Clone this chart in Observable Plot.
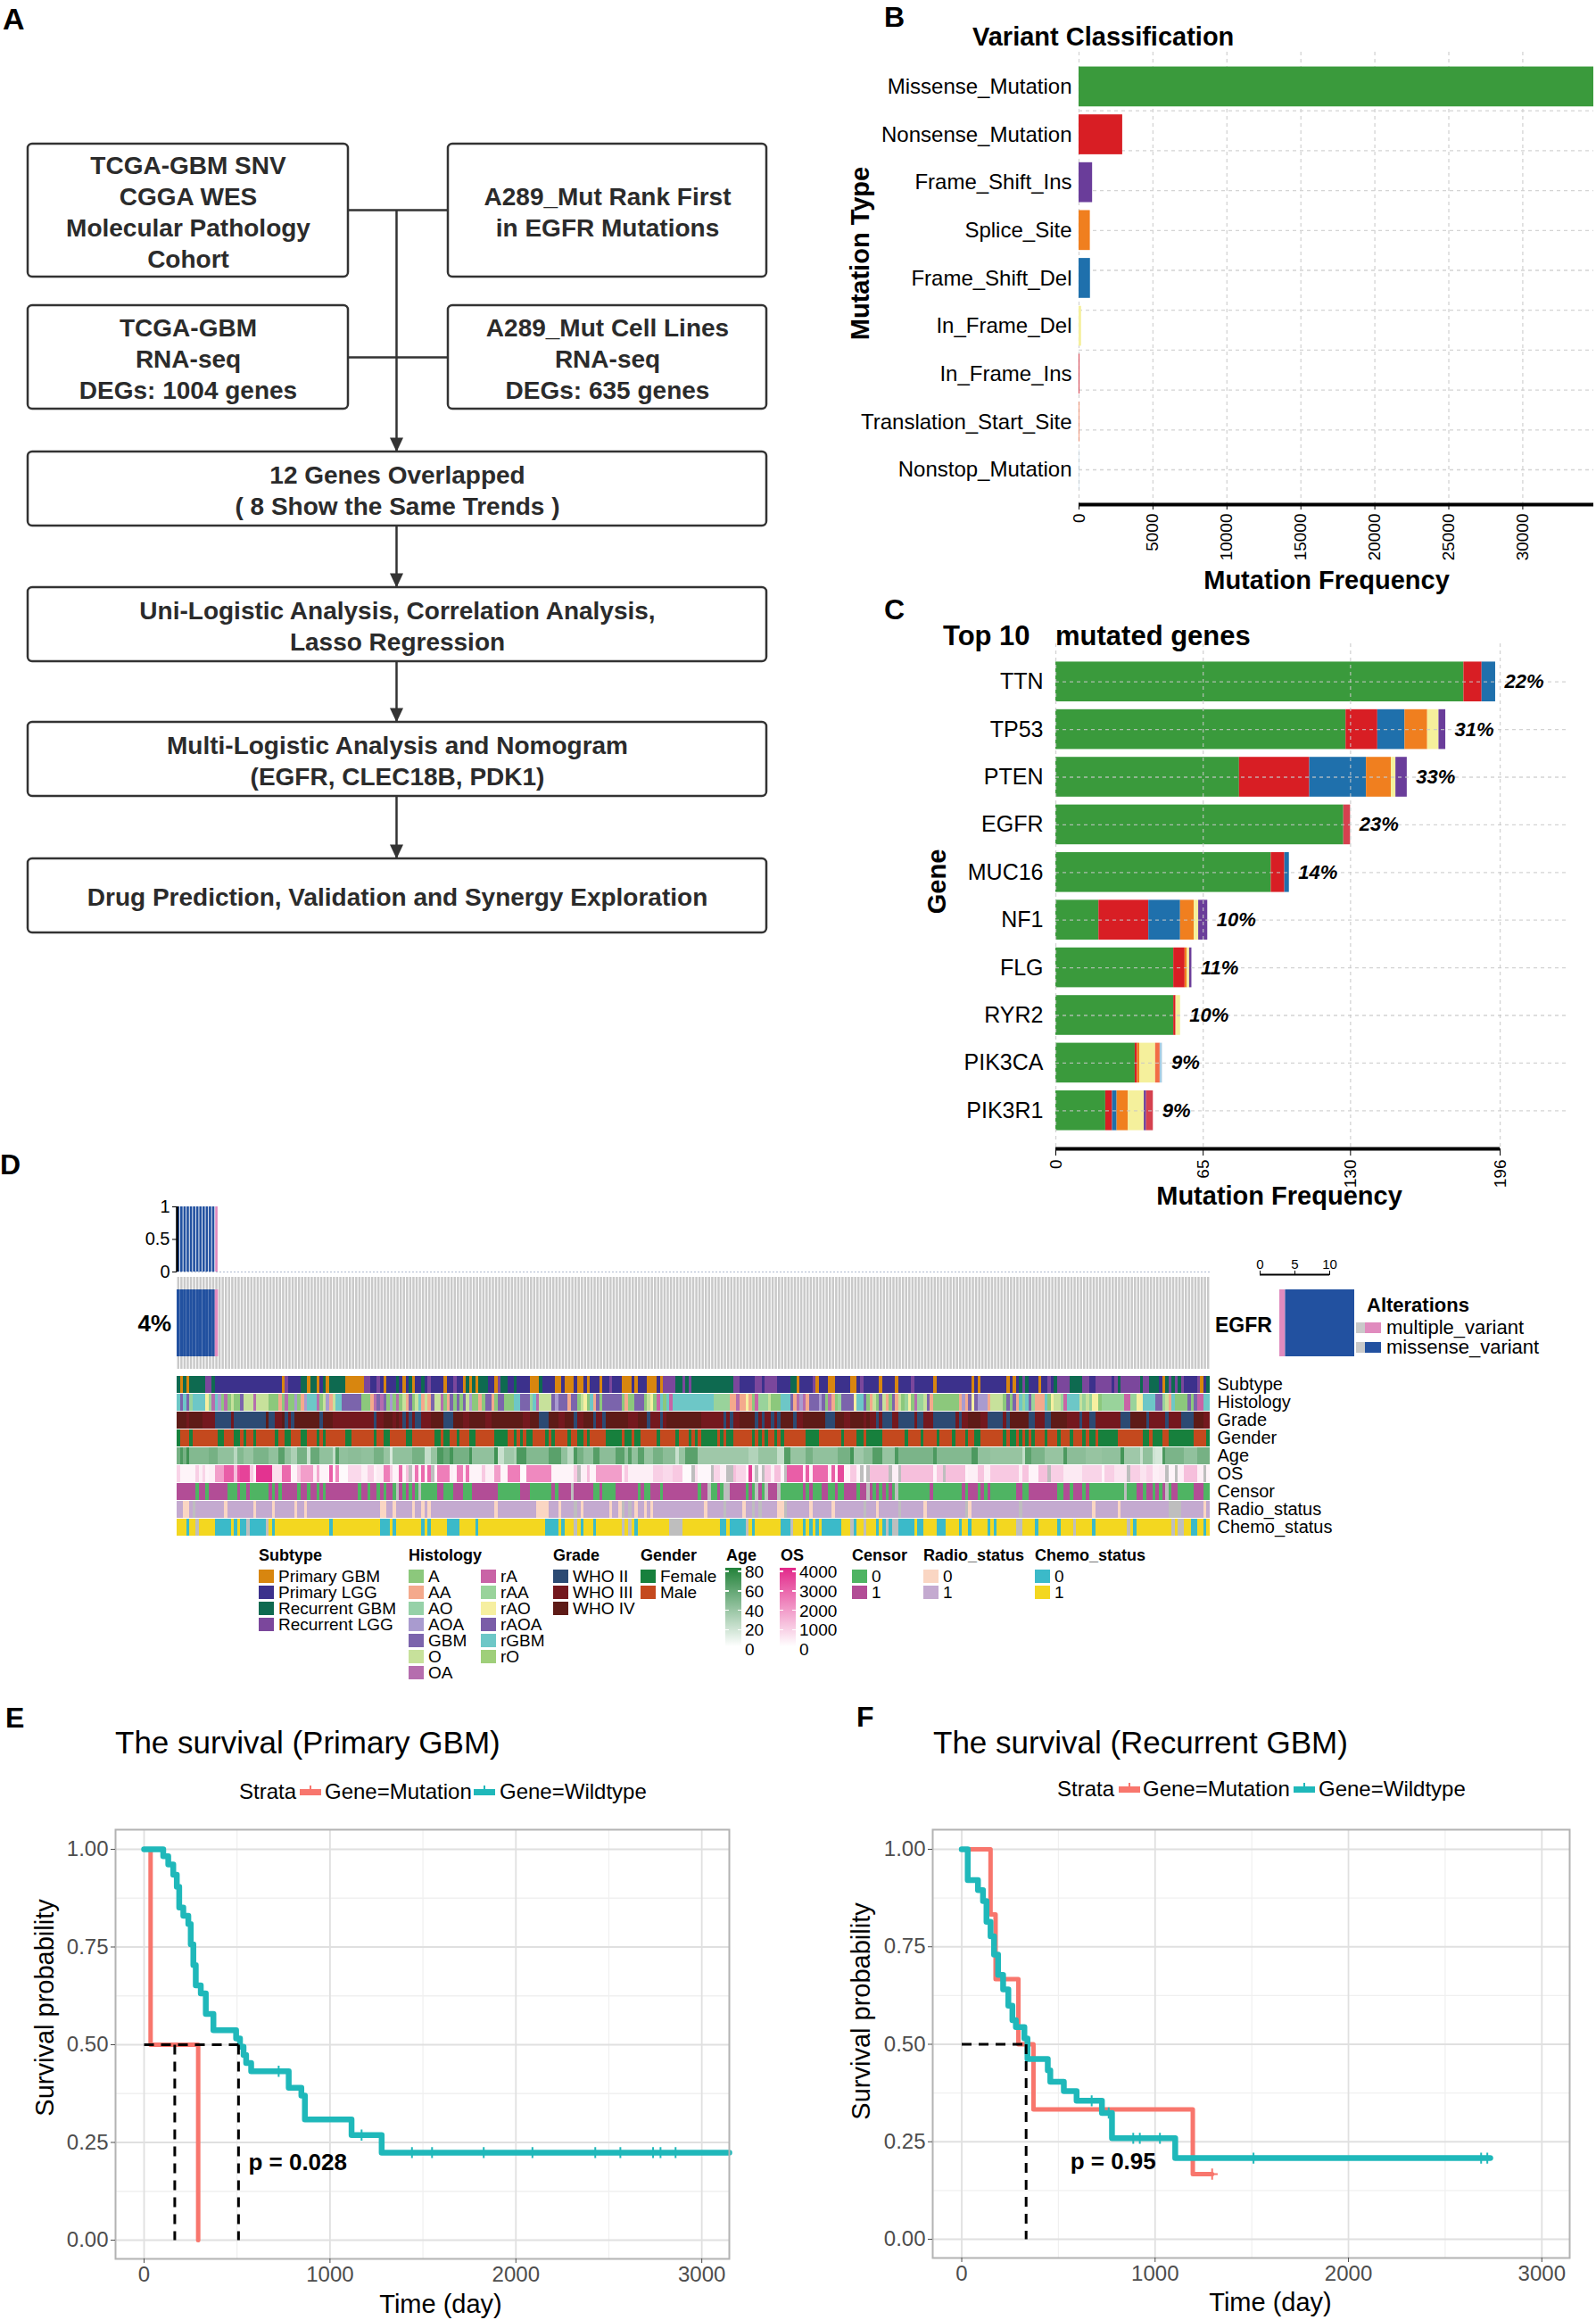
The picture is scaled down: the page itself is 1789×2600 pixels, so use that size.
<!DOCTYPE html>
<html><head><meta charset="utf-8">
<script src="https://cdn.jsdelivr.net/npm/d3@7"></script>
<script src="https://cdn.jsdelivr.net/npm/@observablehq/plot@0.6"></script>
<style>
body{margin:0;background:#fff;}
#fig{position:relative;width:1789px;height:2600px;overflow:hidden;background:#fff;font-family:"Liberation Sans",Arial,Helvetica,sans-serif;}
</style></head><body><div id="fig"></div>
<script>
// ===================== DATA =====================
// Panel A – flowchart text
const flowSteps = [
  ["TCGA-GBM SNV","CGGA WES","Molecular Pathology","Cohort"],
  ["A289_Mut Rank First","in EGFR Mutations"],
  ["TCGA-GBM","RNA-seq","DEGs: 1004 genes"],
  ["A289_Mut Cell Lines","RNA-seq","DEGs: 635 genes"],
  ["12 Genes Overlapped","( 8 Show the Same Trends )"],
  ["Uni-Logistic Analysis, Correlation Analysis,","Lasso Regression"],
  ["Multi-Logistic Analysis and Nomogram","(EGFR, CLEC18B, PDK1)"],
  ["Drug Prediction, Validation and Synergy Exploration"]
];

// Panel B – variant classification
const vcTypes = ["Missense_Mutation","Nonsense_Mutation","Frame_Shift_Ins","Splice_Site","Frame_Shift_Del","In_Frame_Del","In_Frame_Ins","Translation_Start_Site","Nonstop_Mutation"];
const vcCounts = [34800, 2950, 915, 760, 770, 170, 60, 40, 20];
const vcTicks = [0,5000,10000,15000,20000,25000,30000];

// Panel C – top 10 mutated genes
const topGenes = ["TTN","TP53","PTEN","EGFR","MUC16","NF1","FLG","RYR2","PIK3CA","PIK3R1"];
const genePct  = ["22%","31%","33%","23%","14%","10%","11%","10%","9%","9%"];
const stackOrder = ["Missense_Mutation","Nonsense_Mutation","Frame_Shift_Del","Splice_Site","In_Frame_Del","Frame_Shift_Ins","In_Frame_Ins","Translation_Start_Site","Nonstop_Mutation"];
const geneMissense = [180,128,81,127,95,19,52,52,35,22];
const geneNonsense = [8,14,31,0,6,22,5,1,1,3];
const geneFSDel    = [6,12,25,0,2,14,0,0,0,2];
const geneSplice   = [0,10,11,0,0,6,1,0,1,5];
const geneIFDel    = [0,5,2,0,0,2,1,2,7,7];
const geneFSIns    = [0,3,5,0,0,4,1,0,0,1];
const geneIFIns    = [0,0,0,3,0,0,0,0,0,3];
const geneTSS      = [0,0,0,0,0,0,0,0,2,0];
const geneNonstop  = [0,0,0,0,0,0,0,0,1,0];
const cTicks = [0,65,130,196];

// Panel D – oncoplot
const N = 325;
const egfrAlterations = ["missense_variant","missense_variant","missense_variant","missense_variant","missense_variant","missense_variant","missense_variant","missense_variant","missense_variant","missense_variant","missense_variant","missense_variant","multiple_variant"];
const egfrPct = "4%";
const egfrCounts = [["multiple_variant",1],["missense_variant",12]];
const trackNames = ["Subtype","Histology","Grade","Gender","Age","OS","Censor","Radio_status","Chemo_status"];
// run-length strings (value:count), three segments per track (106 + 110 + 109 samples)
const subtypeRuns = [
 "R:1 P:1 R:1 P:1 R:5 Q:2 R:1 L:21 P:1 Q:1 L:4 R:2 P:1 R:2 P:1 L:1 R:1 P:1 R:5 P:6 Q:2 L:2 Q:1 L:1 P:1 L:3 R:1 L:1 P:1 L:1 R:1 P:1 L:2 R:1 L:1 Q:1 L:4 P:1 L:2 Q:1 L:2 P:1 R:1 P:1 R:1 P:1 R:2 R:1 L:2 P:1 Q:1 R:2 L:2",
 "R:1 L:4 P:3 R:1 L:4 P:2 L:1 P:3 L:1 P:2 L:1 P:1 L:3 P:1 L:2 Q:1 L:3 P:3 L:1 P:1 L:3 P:3 L:1 P:1 Q:4 R:2 Q:1 R:1 Q:1 R:3 R:10 Q:2 L:5 Q:2 L:1 Q:4 L:4 R:2 P:1 L:4 Q:1 P:1 L:3 P:2 L:5 P:2 L:1 Q:1",
 "L:5 P:1 L:4 P:1 L:4 Q:1 L:6 P:1 L:11 P:1 L:1 P:1 L:8 P:1 L:1 P:1 L:1 R:1 Q:1 R:1 L:3 P:1 L:2 Q:1 L:1 R:1 Q:4 R:4 Q:2 L:2 Q:5 L:1 Q:1 R:1 Q:6 R:1 Q:2 R:3 L:1 P:1 R:1 Q:1 R:1 Q:1 R:1 Q:1 L:4 Q:1 P:1 L:1 R:1"];
const histologyRuns = [
 "5:1 G:1 5:1 G:1 2:1 5:4 3:1 2:1 Y:1 5:1 x:1 A:1 Y:1 A:1 O:1 A:2 G:1 O:3 Y:1 O:4 A:3 a:1 A:1 Y:1 A:2 x:1 A:1 a:1 x:1 5:3 Y:1 A:1 O:1 x:1 a:1 O:1 5:2 G:6 A:3 a:1 Y:1 G:1 Y:1 G:1 A:1 x:1 A:1 Y:1 A:1 O:1 a:1 G:1 A:1 O:1 5:1 a:1 O:1 a:1 G:1 O:2 Y:1 A:1 a:1 G:1 A:1 G:1 A:1 G:1 O:1 x:1 A:2 a:1 A:1 G:2 a:1 A:1 G:2 A:3",
 "5:2 G:3 2:1 5:1 Y:1 O:1 O:3 G:1 x:1 G:3 a:1 G:2 A:1 O:1 3:1 A:1 5:1 a:1 G:1 A:1 G:2 G:4 A:1 a:1 A:2 G:3 A:1 O:1 3:1 A:1 1:1 5:1 A:1 5:1 1:1 5:13 2:5 a:2 Y:1 a:2 3:1 a:1 A:1 1:1 2:3 O:1 A:3 5:3 G:1 a:1 Y:1 x:1 Y:1 a:1 G:3 x:1 G:1 A:1 Y:1 a:1 A:1 2:1 G:4 3:1 5:2",
 "G:1 A:1 a:1 O:1 A:1 G:1 O:1 a:1 A:1 G:1 a:1 O:1 A:1 2:1 3:1 A:1 Y:1 2:2 O:1 G:1 a:1 A:8 a:1 x:1 a:1 G:1 3:1 G:1 x:3 a:1 O:4 A:1 G:1 A:1 G:1 a:1 5:1 2:1 5:1 G:1 2:1 a:3 5:1 A:1 3:1 O:2 2:1 1:1 5:4 O:1 2:1 O:1 2:1 3:2 A:1 2:7 1:2 2:2 3:2 5:4 G:2 2:1 O:1 a:1 5:1 A:4 G:1 A:1 G:1 1:2 5:2"];
const gradeRuns = [
 "4:3 3:1 4:4 3:4 2:5 3:1 2:10 4:1 2:2 3:2 4:1 2:1 3:1 2:1 4:8 2:1 4:3 3:13 2:1 3:2 4:3 3:1 4:1 3:1 2:1 3:1 2:1 3:1 2:2 3:3 4:4 2:3 4:3 3:2 4:5 3:2 4:7",
 "4:3 3:2 4:3 2:3 4:3 3:2 4:3 2:1 3:2 4:3 2:1 3:2 2:1 4:3 4:4 3:3 4:3 2:1 3:3 2:1 3:1 4:4 4:7 3:7 2:1 3:1 2:1 3:2 4:5 2:1 3:1 2:1 3:2 2:1 3:1 2:1 4:4 2:1 3:2 4:7 2:3 4:3 3:2 4:4",
 "3:1 4:1 3:2 2:1 3:1 2:3 3:2 2:5 3:1 2:2 3:3 2:7 3:1 2:1 3:2 4:4 3:2 2:5 3:1 2:1 4:6 2:2 3:3 2:2 4:5 3:4 2:1 3:2 2:2 3:1 3:5 3:2 2:3 4:5 2:1 3:5 2:1 3:4 2:4 4:3 3:2"];
const genderRuns = [
 "F:1 M:3 F:1 M:8 F:2 M:3 F:2 M:1 F:1 M:2 F:1 M:6 F:1 M:2 F:2 M:3 F:2 M:3 F:1 M:1 F:1 M:6 F:2 M:7 F:1 M:2 F:2 M:5 F:2 M:7 F:2 M:1 F:2 M:2 F:1 M:3 F:2 M:6 F:4 M:2",
 "F:1 M:1 F:1 M:1 F:2 M:4 F:1 M:1 F:1 M:4 F:1 M:2 F:2 M:1 F:1 M:5 F:5 M:1 F:2 M:1 F:2 M:5 F:1 M:5 F:1 M:3 F:1 M:1 F:1 M:1 F:5 M:1 F:1 M:1 F:2 M:6 F:1 M:1 F:1 M:1 F:1 M:2 F:1 M:1 F:1 M:7 F:4 M:7 F:1 M:4 F:2",
 "M:1 F:5 M:7 F:1 M:4 F:1 M:4 F:1 M:4 F:1 M:3 F:1 M:2 F:2 M:7 F:1 M:1 F:2 M:1 F:1 M:1 F:1 M:1 F:1 M:3 F:1 M:3 F:1 M:3 F:1 M:3 F:1 M:1 F:2 M:1 F:6 M:8 F:2 M:1 F:3 M:2 F:8 M:4 F:1"];
const ageRuns = [
 "50:1 65:1 50:1 70:1 45:6 50:3 40:5 25:1 45:2 38:3 48:5 40:3 60:2 40:2 30:2 50:3 20:1 55:3 40:4 22:1 62:1 40:3 42:4 40:4 50:3 38:2 15:1 40:1 40:5 50:4 22:2 38:2 65:2 55:2 68:1 50:5 68:1 40:7 70:1 20:2 35:3",
 "30:1 65:3 45:7 60:4 40:2 25:2 65:1 50:2 40:3 62:2 42:5 60:3 40:1 62:1 40:2 60:2 38:3 50:3 42:4 20:1 38:2 60:4 35:8 35:8 28:3 38:6 22:2 62:2 38:5 50:2 40:8 50:4 68:1 35:3",
 "42:3 62:3 38:4 65:1 48:11 65:1 45:11 65:2 40:4 38:10 22:1 60:2 48:4 38:6 65:1 42:6 38:5 40:6 68:1 35:5 20:1 40:3 18:1 15:2 65:1 48:6 40:4 50:4"];
const osRuns = [
 "800:1 200:5 900:1 300:1 800:1 200:1 300:2 1800:3 3000:3 1200:1 3200:1 3500:3 1000:1 300:1 3800:5 600:3 2800:3 200:2 1000:1 1800:4 300:1 1600:1 200:3 3000:1 200:1 2200:1 100:3 700:4 300:2 900:2 200:1 400:2 2400:2 900:1 200:2 2800:1 200:1 1200:1 N:1 300:1 2600:1 200:1 2800:1 300:1 2800:1 N:1 200:1 2400:4 300:1 200:1 2400:2 300:1 2600:1 200:4 1000:1 300:3 1800:2 200:2 2400:2",
 "2400:2 100:2 2200:8 200:7 1000:1 N:1 300:2 1200:1 200:2 1800:8 300:1 1000:1 300:8 900:3 700:3 1000:3 100:3 N:1 600:1 150:4 N:1 800:2 300:2 N:2 1200:1 800:3 200:1 3600:1 300:1 N:1 200:1 N:1 1000:2 300:1 1200:2 200:1 N:1 3000:5 300:1 3000:1 200:1 2800:5 300:1 3000:1 200:1 3400:2 200:2 1000:2 200:1 N:1",
 "100:1 N:1 1200:6 N:1 300:2 N:1 1200:10 200:1 1000:2 N:1 1200:6 200:1 300:3 1100:2 300:2 1000:9 300:1 1100:2 200:3 1200:3 N:1 900:4 400:6 800:6 200:1 900:3 500:4 N:1 900:3 500:2 800:2 300:2 400:2 N:1 200:2 N:1 300:2 1200:4 300:2 N:1 200:1"];
const censorRuns = [
 "1:6 0:1 1:2 0:1 1:6 0:3 1:1 0:2 1:1 0:6 1:1 0:1 1:1 0:1 1:5 0:1 1:2 0:1 1:2 0:1 1:1 0:1 1:10 0:1 1:2 0:1 1:2 0:1 1:1 0:1 1:2 0:1 N:1 1:1 0:1 1:1 0:1 1:1 0:1 N:1 0:5 1:2 0:3 1:3 0:3 1:8 0:5",
 "0:2 1:3 0:7 1:1 0:1 1:4 N:1 1:6 0:2 1:1 0:4 1:7 0:1 1:1 0:2 1:3 0:1 1:11 0:1 1:2 N:1 0:2 1:1 0:1 N:2 1:5 0:1 1:1 0:1 N:1 1:1 0:1 N:1 1:3 N:1 0:7 1:1 0:1 1:1 0:3 1:2 0:2 1:1 0:2 1:4 0:1 1:1",
 "1:1 N:1 1:1 0:1 1:1 0:1 1:1 0:1 1:1 0:1 N:1 0:10 1:1 0:9 1:1 0:1 1:3 0:1 1:1 0:1 1:1 0:8 1:2 0:2 1:9 0:2 1:2 0:1 1:3 0:1 1:1 0:11 N:1 0:3 1:2 0:1 1:2 0:1 1:1 0:1 1:1 N:1 0:1 1:2 0:5 1:3 0:2"];
const radioRuns = [
 "1:2 0:2 1:1 N:1 1:9 0:1 1:8 0:1 1:5 0:1 1:6 0:1 1:2 0:1 1:23 0:2 1:2 0:1 1:5 0:1 1:2 0:1 1:1 0:1 1:20 0:1 1:5",
 "1:7 0:4 1:3 0:1 1:4 N:1 1:1 0:1 1:8 0:1 1:2 0:1 N:1 1:1 N:1 1:1 0:1 1:2 0:1 1:1 0:1 1:16 0:1 1:5 N:1 1:5 0:1 1:2 N:1 1:1 N:1 1:5 0:2 N:1 1:7 0:1 1:6 0:1 1:9",
 "N:1 1:3 0:1 1:6 N:1 1:7 0:1 1:12 N:1 0:1 1:15 N:1 1:22 0:1 1:7 0:1 1:15 N:4 1:7 0:1 1:1"];
const chemoRuns = [
 "1:3 0:1 1:2 N:1 1:5 0:5 1:1 0:1 1:1 0:2 N:1 0:5 N:1 1:1 0:1 1:17 0:1 1:15 0:3 1:1 0:1 1:8 0:1 1:1 0:1 1:5 0:4 1:5 0:1 1:11",
 "1:10 0:4 1:1 0:1 1:3 N:1 1:1 0:1 1:3 0:1 1:8 N:1 1:1 N:1 1:1 0:1 1:10 N:4 1:12 0:2 1:1 0:5 N:1 1:1 0:1 1:8 0:3 N:1 1:3 0:1 1:1 0:1 1:1 0:1 1:1 0:6 1:3 N:1 0:1 1:2",
 "N:1 1:3 0:1 1:1 0:1 N:1 0:1 N:2 0:5 1:1 0:2 1:4 0:3 1:4 0:1 1:2 0:1 1:5 0:1 1:1 0:1 1:6 N:2 1:4 0:1 1:6 0:1 1:4 N:1 1:5 0:1 1:10 N:1 1:1 0:1 1:11 N:1 1:1 N:2 1:2 0:2 1:2 0:1 1:1"];
const subtypeCodes = {P:"Primary GBM", L:"Primary LGG", R:"Recurrent GBM", Q:"Recurrent LGG"};
const histologyCodes = {A:"A", a:"AA", o:"AO", x:"AOA", G:"GBM", O:"O", Y:"OA", "1":"rA", "2":"rAA", "3":"rAO", "4":"rAOA", "5":"rGBM", "6":"rO"};
const gradeCodes = {"2":"WHO II","3":"WHO III","4":"WHO IV"};
const genderCodes = {F:"Female", M:"Male"};
const ageLegendTicks = [80,60,40,20,0];
const osLegendTicks = [4000,3000,2000,1000,0];

// Panels E/F – Kaplan–Meier curves [day, survival]
const kmPrimaryMut = [[0,1],[35,0.5],[291,0]];
const kmPrimaryWt = [[0,1],[103,0.982],[130,0.961],[157,0.935],[176,0.904],[189,0.851],[211,0.830],[238,0.809],[251,0.757],[265,0.704],[278,0.652],[305,0.631],[332,0.579],[373,0.537],[495,0.516],[516,0.495],[535,0.474],[549,0.453],[576,0.432],[778,0.390],[846,0.370],[865,0.309],[1116,0.269],[1278,0.224],[3148,0.224]];
const kmPrimaryWtCens = [[724,0.432],[1170,0.269],[1441,0.224],[1549,0.224],[1827,0.224],[2089,0.224],[2427,0.224],[2562,0.224],[2738,0.224],[2778,0.224],[2859,0.224]];
const kmPrimaryMedians = [[0,0.5,508,0.5],[165,0.5,165,0],[508,0.5,508,0]];
const kmPrimaryP = "p = 0.028";
const kmRecMut = [[0,1],[149,0.833],[175,0.667],[293,0.5],[371,0.333],[1195,0.167],[1295,0.167]];
const kmRecMutCens = [[1295,0.167]];
const kmRecWt = [[0,1],[31,0.921],[84,0.895],[110,0.867],[128,0.814],[149,0.777],[167,0.730],[188,0.678],[214,0.641],[241,0.599],[262,0.562],[280,0.544],[324,0.515],[340,0.462],[445,0.433],[458,0.404],[528,0.380],[594,0.355],[725,0.324],[777,0.259],[1104,0.208],[2733,0.208]];
const kmRecWtCens = [[672,0.355],[760,0.324],[887,0.259],[921,0.259],[1025,0.259],[1509,0.208],[2686,0.208],[2718,0.208]];
const kmRecMedians = [[0,0.5,333,0.5],[333,0.5,333,0]];
const kmRecP = "p = 0.95";
const kmTicksX = [0,1000,2000,3000], kmMinorX = [500,1500,2500];
const kmTicksY = [0,0.25,0.5,0.75,1], kmMinorY = [0.125,0.375,0.625,0.875];

// ===================== STYLES =====================
const FONT = '"Liberation Sans", Arial, Helvetica, sans-serif';
const vcColors = {Missense_Mutation:"#3A9A3C", Nonsense_Mutation:"#D81E24", Frame_Shift_Del:"#1F70AC", Splice_Site:"#F07F1F", Frame_Shift_Ins:"#6A3D9A", In_Frame_Del:"#F5F09C", In_Frame_Ins:"#D5414F", Translation_Start_Site:"#F26D45", Nonstop_Mutation:"#A8CCE2"};
const altColors = {missense_variant:"#2251A0", multiple_variant:"#E08BBE"};
const subtypePalette = {"Primary GBM":"#D8860F","Primary LGG":"#3C318C","Recurrent GBM":"#0E6A50","Recurrent LGG":"#7B479C"};
const histologyPalette = {A:"#8CC87C",AA:"#F4A98C",AO:"#96D1A8",AOA:"#A99BCF",GBM:"#7B64AC",O:"#C7E19B",OA:"#B56DAE",rA:"#C963A6",rAA:"#99D39B",rAO:"#F6EFA0",rAOA:"#7A5DA8",rGBM:"#6DC7C7",rO:"#9FCF7A"};
const gradePalette = {"WHO II":"#2C4A73","WHO III":"#74181E","WHO IV":"#5E1B17"};
const genderPalette = {Female:"#17803D", Male:"#C4491E"};
const censorPalette = {"0":"#4FB463","1":"#B24D96"};
const radioPalette = {"0":"#FAD6C3","1":"#C4AAD0"};
const chemoPalette = {"0":"#3BBAC9","1":"#F3D720"};
const NA_COLOR = "#BEBEBE";
const ageColor = v => d3.interpolateRgb("#FFFFFF","#23823A")(Math.max(0,Math.min(1,v/80)));
const osColor = v => d3.interpolateRgb("#FFFFFF","#E2288A")(Math.max(0,Math.min(1,v/4000)));
const MUT_COLOR = "#F8766D", WT_COLOR = "#1FB8BA";
const baseStyle = {fontFamily: FONT, background: "transparent", overflow: "visible", color: "#000"};

// ===================== HELPERS =====================
const fig = document.getElementById("fig");
const W = 1789;
function put(el, left, top) {
  el.style.position = "absolute"; el.style.left = left + "px"; el.style.top = top + "px";
  fig.appendChild(el); return el;
}
function label(text, x, y, o = {}) {
  const d = document.createElement("div");
  d.textContent = text;
  const a = o.anchor || "start";
  const tx = a === "start" ? "0" : a === "middle" ? "-50%" : "-100%";
  const tf = o.rotate ? `translate(-50%,-50%) rotate(${o.rotate}deg)` : `translate(${tx},-50%)`;
  Object.assign(d.style, {position:"absolute", left:x+"px", top:y+"px", transform:tf, whiteSpace:"nowrap",
    lineHeight:"1", fontSize:(o.size||20)+"px", fontWeight:o.weight||"normal", fontStyle:o.style||"normal",
    color:o.color||"#000", fontFamily:FONT});
  fig.appendChild(d); return d;
}
function box(x, y, w, h, bg) {
  const d = document.createElement("div");
  Object.assign(d.style, {position:"absolute", left:x+"px", top:y+"px", width:w+"px", height:h+"px", background:bg});
  fig.appendChild(d); return d;
}
function decodeRuns(segs) {
  const out = [];
  for (const seg of segs) for (const tok of seg.trim().split(/\s+/)) {
    const k = tok.lastIndexOf(":");
    const v = tok.slice(0, k), n = +tok.slice(k + 1);
    for (let j = 0; j < n; j++) out.push(v);
  }
  return out;
}

// ===================== PANEL A =====================
const flowBoxes = [[31,390,161,310],[502,859,161,310],[31,390,342,458],[502,859,342,458],[31,859,506,589],[31,859,658,741],[31,859,809,892],[31,859,962,1045]];
const flowLinks = [[390,235,502,235],[390,400,502,400],[444,235,444,506],[444,589,444,658],[444,741,444,809],[444,892,444,962]];
const flowArrowTips = [[444,506],[444,658],[444,809],[444,962]];
const arrowHead = {draw(ctx){ ctx.moveTo(0,0); ctx.lineTo(-7.5,-16); ctx.lineTo(7.5,-16); ctx.closePath(); }};
const boxesA = flowSteps.map((lines,i)=>({lines, b: flowBoxes[i]}));
put(Plot.plot({
  width: 900, height: 1060, margin: 0, style: baseStyle,
  x: {domain:[0,900], axis:null}, y: {domain:[1060,0], axis:null},
  marks: [
    Plot.link(flowLinks, {x1:d=>d[0], y1:d=>d[1], x2:d=>d[2], y2:d=>d[3], stroke:"#333", strokeWidth:2.5}),
    Plot.rect(boxesA, {x1:d=>d.b[0], x2:d=>d.b[1], y1:d=>d.b[2], y2:d=>d.b[3], fill:"#fff", stroke:"#333", strokeWidth:2.5, rx:5}),
    Plot.text(boxesA, {x:d=>(d.b[0]+d.b[1])/2, y:d=>(d.b[2]+d.b[3])/2, text:d=>d.lines.join("\n"), fontSize:28, fontWeight:"bold", lineHeight:1.25, fill:"#2b2b2b"}),
    Plot.dot(flowArrowTips, {x:d=>d[0], y:d=>d[1], symbol:arrowHead, r:8, fill:"#333", stroke:"none"})
  ]
}), 0, 0);
label("A", 3, 21, {size:34, weight:"bold"});

// ===================== PANEL B =====================
const barsB = vcTypes.map((t,j)=>({type:t, count:vcCounts[j], pos: vcTypes.length-1-j}));
const bYDomain = [-0.172, 11.17];
const bGridY = d3.range(11).map(j=>0.7+j);
put(Plot.plot({
  width: 849, height: 680, marginLeft: 269, marginRight: 3, marginTop: 58, marginBottom: 115,
  style: baseStyle, color: {type:"identity"},
  x: {domain:[0, 34800]}, y: {domain: bYDomain, axis:null},
  marks: [
    Plot.ruleX(vcTicks, {stroke:"#D4D4D4", strokeWidth:1.3, strokeDasharray:"4,4"}),
    Plot.ruleY(bGridY, {x1:0, x2:34800, stroke:"#D4D4D4", strokeWidth:1.3, strokeDasharray:"4,4"}),
    Plot.rect(barsB, {x1:0, x2:"count", y1:d=>0.2+1.2*d.pos, y2:d=>1.2+1.2*d.pos, fill:d=>vcColors[d.type]}),
    Plot.ruleY([bYDomain[0]], {x1:0, x2:34800, stroke:"#000", strokeWidth:4}),
    Plot.text(barsB, {x:0, y:d=>0.7+1.2*d.pos, text:"type", textAnchor:"end", dx:-8, fontSize:24}),
    Plot.axisX({ticks:vcTicks, tickFormat:"d", tickRotate:-90, fontSize:19, tickSize:6, tickPadding:4, label:null})
  ]
}), 940, 0);
label("B", 991, 19, {size:32, weight:"bold"});
label("Variant Classification", 1090, 41, {size:29, weight:"bold"});
label("Mutation Type", 964, 284, {size:29, weight:"bold", rotate:-90});
label("Mutation Frequency", 1487, 650, {size:29, weight:"bold", anchor:"middle"});

// ===================== PANEL C =====================
const geneCounts = {Missense_Mutation:geneMissense, Nonsense_Mutation:geneNonsense, Frame_Shift_Del:geneFSDel, Splice_Site:geneSplice, In_Frame_Del:geneIFDel, Frame_Shift_Ins:geneFSIns, In_Frame_Ins:geneIFIns, Translation_Start_Site:geneTSS, Nonstop_Mutation:geneNonstop};
const segsC = [], totalsC = [];
topGenes.forEach((g,i)=>{
  let cum = 0;
  for (const t of stackOrder) {
    const c = geneCounts[t][i];
    if (c > 0) { segsC.push({gene:g, i, type:t, x1:cum, x2:cum+c}); cum += c; }
  }
  totalsC.push({gene:g, i, total:cum, pct:genePct[i]});
});
const cYDomain = [-0.8, 9.8];
put(Plot.plot({
  width: 789, height: 700, marginLeft: 183, marginRight: 34, marginTop: 51, marginBottom: 83,
  style: baseStyle, color: {type:"identity"},
  x: {domain:[0, 225.1]}, y: {domain: cYDomain, reverse:true, axis:null},
  marks: [
    Plot.rect(segsC, {x1:"x1", x2:"x2", y1:d=>d.i-0.4175, y2:d=>d.i+0.4175, fill:d=>vcColors[d.type]}),
    Plot.ruleX(cTicks, {stroke:"#C8C8C8", strokeOpacity:0.8, strokeWidth:1.3, strokeDasharray:"4,4"}),
    Plot.ruleY(d3.range(topGenes.length), {x1:0, x2:225.1, stroke:"#C8C8C8", strokeOpacity:0.8, strokeWidth:1.3, strokeDasharray:"4,4"}),
    Plot.ruleY([cYDomain[1]], {x1:0, x2:196, stroke:"#000", strokeWidth:4}),
    Plot.text(totalsC, {x:0, y:"i", text:"gene", textAnchor:"end", dx:-14, fontSize:25}),
    Plot.text(totalsC, {x:"total", y:"i", text:"pct", textAnchor:"start", dx:10, fontSize:22, fontWeight:"bold", fontStyle:"italic"}),
    Plot.axisX({ticks:cTicks, tickFormat:"d", tickRotate:-90, fontSize:19, tickSize:8, tickPadding:4, label:null})
  ]
}), 1000, 670);
label("C", 991, 683, {size:32, weight:"bold"});
label("Top 10", 1057, 712, {size:31, weight:"bold"});
label("mutated genes", 1183, 712, {size:31, weight:"bold"});
label("Gene", 1050, 988, {size:29, weight:"bold", rotate:-90});
label("Mutation Frequency", 1434, 1340, {size:29, weight:"bold", anchor:"middle"});

// ===================== PANEL D =====================
const dLeft = 198, dRight = 1356;
const egfrCells = egfrAlterations.map((a,i)=>({i, alt:a}));
// top bar plot
put(Plot.plot({
  width: W, height: 92, marginLeft: dLeft, marginRight: W-dRight, marginTop: 12, marginBottom: 7,
  style: baseStyle, color: {type:"identity"},
  x: {domain:[0,N], axis:null}, y: {domain:[0,1]},
  marks: [
    Plot.ruleY([0], {x1:0, x2:N, stroke:"#AEB9CF", strokeWidth:1.2, strokeDasharray:"2,2"}),
    Plot.rect(egfrCells, {x1:"i", x2:d=>d.i+1, y1:0, y2:1, fill:d=>altColors[d.alt], insetLeft:0.45, insetRight:0.45}),
    Plot.ruleX([0], {y1:0, y2:1, stroke:"#000", strokeWidth:2.5}),
    Plot.axisY({ticks:[0,0.5,1], tickFormat:d=>String(d), fontSize:20, tickSize:5, tickPadding:3, label:null})
  ]
}), 0, 1340);
// mutation matrix
put(Plot.plot({
  width: W, height: 103, marginLeft: dLeft, marginRight: W-dRight, marginTop: 0, marginBottom: 0,
  style: baseStyle, color: {type:"identity"},
  x: {domain:[0,N], axis:null}, y: {domain:[0,1], axis:null},
  marks: [
    Plot.rect(d3.range(N), {x1:d=>d, x2:d=>d+1, y1:0, y2:1, fill:"#C9C9C9", insetLeft:0.55, insetRight:0.55}),
    Plot.rect(egfrCells, {x1:"i", x2:d=>d.i+1, y1:0, y2:1, insetTop:14, insetBottom:14, fill:d=>altColors[d.alt]})
  ]
}), 0, 1431);
label(egfrPct, 192, 1483, {size:26, weight:"bold", anchor:"end"});
label("EGFR", 1362, 1485, {size:23, weight:"bold"});
// annotation tracks
const trackValues = {
  Subtype: decodeRuns(subtypeRuns), Histology: decodeRuns(histologyRuns), Grade: decodeRuns(gradeRuns),
  Gender: decodeRuns(genderRuns), Age: decodeRuns(ageRuns), OS: decodeRuns(osRuns),
  Censor: decodeRuns(censorRuns), Radio_status: decodeRuns(radioRuns), Chemo_status: decodeRuns(chemoRuns)
};
function cellColor(track, v) {
  if (v === undefined || v === "N") return NA_COLOR;
  switch (track) {
    case "Subtype": return subtypePalette[subtypeCodes[v]];
    case "Histology": return histologyPalette[histologyCodes[v]];
    case "Grade": return gradePalette[gradeCodes[v]];
    case "Gender": return genderPalette[genderCodes[v]];
    case "Age": return ageColor(+v);
    case "OS": return osColor(+v);
    case "Censor": return censorPalette[v];
    case "Radio_status": return radioPalette[v];
    case "Chemo_status": return chemoPalette[v];
  }
}
const trackCells = [];
for (const t of trackNames) {
  const vals = trackValues[t];
  for (let i = 0; i < Math.min(N, vals.length); i++) trackCells.push({track:t, i, fill: cellColor(t, vals[i])});
}
put(Plot.plot({
  width: W, height: 186, marginLeft: dLeft, marginRight: W-dRight, marginTop: 0, marginBottom: 0,
  style: baseStyle, color: {type:"identity"},
  x: {domain:[0,N], axis:null}, y: {domain: trackNames, paddingInner:0.073, paddingOuter:0.073},
  marks: [
    Plot.barX(trackCells, {x1:"i", x2:d=>d.i+1, y:"track", fill:"fill", shapeRendering:"crispEdges"}),
    Plot.axisY({anchor:"right", tickSize:0, tickPadding:8, fontSize:20, label:null})
  ]
}), 0, 1537.5);
// right bar plot of alteration counts
const rightBar = []; { let c = 0; for (const [a,n] of egfrCounts) { rightBar.push({alt:a, x1:c, x2:c+n}); c += n; } }
put(Plot.plot({
  width: W, height: 75, marginLeft: 1434, marginRight: W-1518, marginTop: 0, marginBottom: 0,
  style: baseStyle, color: {type:"identity"},
  x: {domain:[0,13], axis:null}, y: {domain:[0,1], axis:null},
  marks: [Plot.rect(rightBar, {x1:"x1", x2:"x2", y1:0, y2:1, fill:d=>altColors[d.alt]})]
}), 0, 1445);
put(Plot.plot({
  width: W, height: 40, marginLeft: 1412, marginRight: W-1490, marginTop: 33, marginBottom: 6,
  style: baseStyle,
  x: {domain:[0,10]}, y: {domain:[0,1], axis:null},
  marks: [
    Plot.ruleY([1], {x1:0, x2:10, stroke:"#000", strokeWidth:2}),
    Plot.axisX({anchor:"top", ticks:[0,5,10], tickSize:5, tickPadding:2, fontSize:15, label:null})
  ]
}), 0, 1395);
label("D", 0, 1305, {size:32, weight:"bold"});
// alterations legend
label("Alterations", 1532, 1463, {size:22, weight:"bold"});
[["multiple_variant",1488],["missense_variant",1510]].forEach(([a,y])=>{
  box(1520, y-6, 10, 12, "#C9C9C9"); box(1530, y-6, 18, 12, altColors[a]);
  label(a, 1554, y, {size:22});
});
// annotation legend
const legendRowY = [1766,1784,1802,1820,1838,1856,1874];
function legendGroup(title, x, items, titleX) {
  if (title) label(title, titleX ?? x, 1743, {size:18, weight:"bold"});
  items.forEach(([name,color],k)=>{ box(x, legendRowY[k]-7.5, 17, 15, color); label(name, x+22, legendRowY[k], {size:19}); });
}
legendGroup("Subtype", 290, Object.entries(subtypePalette));
legendGroup("Histology", 458, ["A","AA","AO","AOA","GBM","O","OA"].map(k=>[k,histologyPalette[k]]));
legendGroup(null, 539, ["rA","rAA","rAO","rAOA","rGBM","rO"].map(k=>[k,histologyPalette[k]]));
legendGroup("Grade", 620, Object.entries(gradePalette));
legendGroup("Gender", 718, Object.entries(genderPalette));
legendGroup("Censor", 955, [["0",censorPalette["0"]],["1",censorPalette["1"]]]);
legendGroup("Radio_status", 1035, [["0",radioPalette["0"]],["1",radioPalette["1"]]]);
legendGroup("Chemo_status", 1160, [["0",chemoPalette["0"]],["1",chemoPalette["1"]]]);
function gradientLegend(title, x, ticks, maxV, colorFn) {
  label(title, x+1, 1743, {size:18, weight:"bold"});
  const top = 1757, bottom = 1845;
  box(x, top, 18, bottom-top, `linear-gradient(to top, #ffffff, ${colorFn(maxV)})`);
  ticks.forEach(v=>{
    const y = 1848 - v/maxV*87;
    box(x, y-0.75, 4, 1.5, "#fff"); box(x+14, y-0.75, 4, 1.5, "#fff");
    label(String(v), x+22, y, {size:19});
  });
}
gradientLegend("Age", 813, ageLegendTicks, 80, ageColor);
gradientLegend("OS", 874, osLegendTicks, 4000, osColor);

// ===================== PANELS E / F =====================
const plusSymbol = {draw(ctx, size){ const h = Math.sqrt(size)/2; ctx.moveTo(0,-h); ctx.lineTo(0,h); ctx.moveTo(-h,0); ctx.lineTo(h,0); }};
function kmPanel(c) {
  return Plot.plot({
    width: c.w, height: 560, marginLeft: c.ml, marginRight: c.mr, marginTop: 10, marginBottom: c.mb,
    style: baseStyle,
    x: {domain: c.xd}, y: {domain: c.yd},
    marks: [
      Plot.ruleX(kmMinorX, {stroke:"#F0F0F0", strokeWidth:1.3}),
      Plot.ruleY(kmMinorY, {stroke:"#F0F0F0", strokeWidth:1.3}),
      Plot.ruleX(kmTicksX, {stroke:"#E0E0E0", strokeWidth:1.8}),
      Plot.ruleY(kmTicksY, {stroke:"#E0E0E0", strokeWidth:1.8}),
      Plot.line(c.mut, {x:d=>d[0], y:d=>d[1], curve:"step-after", stroke:MUT_COLOR, strokeWidth:5}),
      Plot.dot(c.mutCens, {x:d=>d[0], y:d=>d[1], symbol:plusSymbol, r:7, stroke:MUT_COLOR, strokeWidth:2, fill:"none"}),
      Plot.line(c.wt, {x:d=>d[0], y:d=>d[1], curve:"step-after", stroke:WT_COLOR, strokeWidth:6.5}),
      Plot.dot(c.wtCens, {x:d=>d[0], y:d=>d[1], symbol:plusSymbol, r:7, stroke:WT_COLOR, strokeWidth:2, fill:"none"}),
      Plot.link(c.medians, {x1:d=>d[0], y1:d=>d[1], x2:d=>d[2], y2:d=>d[3], stroke:"#000", strokeWidth:3, strokeDasharray:"11,8"}),
      Plot.text([c.p], {x:561, y:0.198, text:d=>d, textAnchor:"start", fontSize:26, fontWeight:"bold"}),
      Plot.frame({stroke:"#B3B3B3", strokeWidth:2}),
      Plot.axisX({ticks:kmTicksX, tickFormat:"d", fontSize:24, tickSize:5, tickPadding:3, color:"#4D4D4D", label:null}),
      Plot.axisY({ticks:kmTicksY, tickFormat:d=>d.toFixed(2), fontSize:24, tickSize:5, tickPadding:3, color:"#4D4D4D", label:null})
    ]
  });
}
put(kmPanel({w:880, ml:129, mr:63, mb:69, xd:[-153.6,3148], yd:[-0.0479,1.0502],
  mut:kmPrimaryMut, mutCens:[], wt:kmPrimaryWt, wtCens:kmPrimaryWtCens, medians:kmPrimaryMedians, p:kmPrimaryP}), 0, 2040);
put(kmPanel({w:889, ml:145, mr:30, mb:70, xd:[-150.1,3144], yd:[-0.048,1.0503],
  mut:kmRecMut, mutCens:kmRecMutCens, wt:kmRecWt, wtCens:kmRecWtCens, medians:kmRecMedians, p:kmRecP}), 900, 2040);
function kmLegend(x, y, pos) {
  label("Strata", x, y, {size:24});
  [[pos[0], pos[1], MUT_COLOR, "Gene=Mutation"], [pos[2], pos[3], WT_COLOR, "Gene=Wildtype"]].forEach(([sx, tx, col, txt])=>{
    box(sx, y-3.5, 24, 7, col); box(sx+11, y-7, 2, 6, col);
    label(txt, tx, y, {size:24});
  });
}
label("E", 6, 1925, {size:32, weight:"bold"});
label("The survival (Primary GBM)", 129, 1952, {size:35});
kmLegend(268, 2008, [336, 364, 531, 560]);
label("Survival probability", 50, 2250, {size:29, rotate:-90});
label("Time (day)", 494, 2582, {size:29, anchor:"middle"});
label("F", 960, 1924, {size:32, weight:"bold"});
label("The survival (Recurrent GBM)", 1046, 1952, {size:35});
kmLegend(1185, 2005, [1254, 1281, 1450, 1478]);
label("Survival probability", 965, 2254, {size:29, rotate:-90});
label("Time (day)", 1424, 2580, {size:29, anchor:"middle"});
</script></body></html>
